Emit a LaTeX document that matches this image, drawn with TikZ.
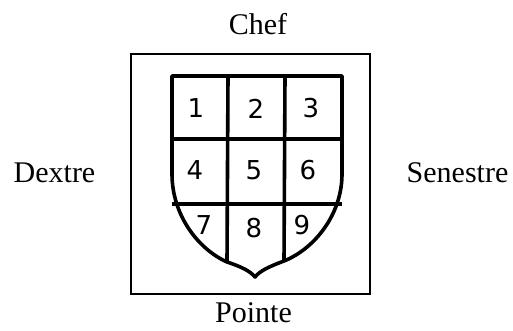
\documentclass[tikz,border=0pt]{standalone}
\usepackage{fontspec}
\setmainfont{Liberation Serif}
\newfontfamily\handfont{DejaVu Sans}
\begin{document}
\begin{tikzpicture}[x=1pt,y=-1pt,
  lbl/.style={font=\fontsize{30}{34}\selectfont, anchor=base, inner sep=0pt, text depth=0pt},
  digit/.style={font=\handfont\fontsize{26}{28}\selectfont, inner sep=0pt},
  frame/.style={draw=black, line width=1.8pt},
  shieldline/.style={draw=black, line width=3.6pt, line join=round}]
\useasboundingbox (0,0) rectangle (513,331);
\node[frame, minimum width=239pt, minimum height=240pt, inner sep=0pt] (box) at (250.5,174) {};
\node[lbl] (chef) at (258,35) {Chef};
\node[lbl] (dextre) at (54.5,182) {Dextre};
\node[lbl] (senestre) at (457.5,182) {Senestre};
\node[lbl] (pointe) at (253.5,322) {Pointe};
% shield outline
\coordinate (tl) at (172,76);
\coordinate (tr) at (342,76);
\coordinate (bp) at (255,277);
\draw[shieldline] (tl) -- (tr) -- (342,174)
  .. controls (342,215) and (314,249) .. (284,261)
  .. controls (268,267) and (260,271) .. (bp)
  .. controls (250,271) and (242,267) .. (227,262)
  .. controls (198,249) and (172,215) .. (172,174) -- cycle;
% grid lines
\draw[shieldline] (172,139) -- (342,139);
\draw[shieldline] (172,204) -- (342,204);
\draw[shieldline] (228,76) -- (227,262);
\draw[shieldline] (285,76) -- (284,261);
% digits
\node[digit] (d1) at (196,108) {1};
\node[digit] (d2) at (256,109) {2};
\node[digit] (d3) at (311,108) {3};
\node[digit] (d4) at (195,170) {4};
\node[digit] (d5) at (254,170) {5};
\node[digit] (d6) at (308,170) {6};
\node[digit] (d7) at (204,225) {7};
\node[digit] (d8) at (254,228) {8};
\node[digit] (d9) at (302,225) {9};
\end{tikzpicture}
\end{document}
